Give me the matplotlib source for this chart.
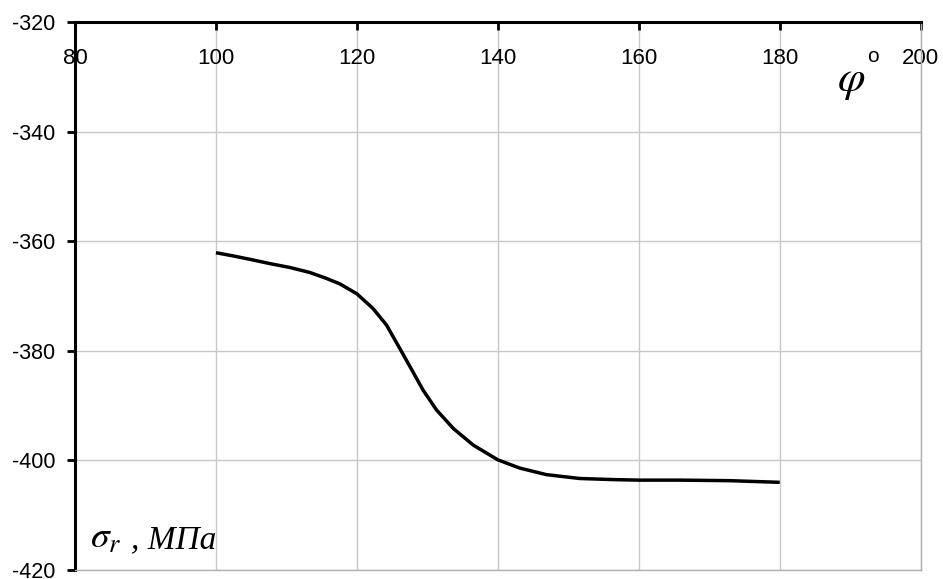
import matplotlib
matplotlib.use("Agg")
import matplotlib.pyplot as plt

# Data
phi = [100, 102.5, 104.8, 107.7, 110.5, 113.3, 115.7, 117.6, 120, 122.3, 124.2,
       126.1, 127.8, 129.4, 131.3, 133.7, 136.5, 140, 143.1, 146.9, 151.6, 156.3,
       160, 165.8, 172.9, 180]
sigma = [-362.1, -362.7, -363.3, -364.1, -364.8, -365.7, -366.8, -367.8, -369.6,
         -372.3, -375.3, -379.6, -383.5, -387.2, -390.8, -394.2, -397.2, -399.9,
         -401.4, -402.6, -403.3, -403.5, -403.6, -403.6, -403.7, -404.0]
xticks = [80, 100, 120, 140, 160, 180, 200]
yticks = [-420, -400, -380, -360, -340, -320]

plt.rcParams['font.family'] = ['Liberation Sans', 'DejaVu Sans']
plt.rcParams['mathtext.fontset'] = 'stix'
plt.rcParams['axes.unicode_minus'] = False

fig = plt.figure(figsize=(9.43, 5.79), dpi=100)
ax = fig.add_axes([75/943, 1-570/579, (920.7-75)/943, (570-22)/579])

ax.plot(phi, sigma, color='black', lw=2.5, solid_capstyle='butt',
        solid_joinstyle='round', zorder=3)

ax.set_xlim(80, 200)
ax.set_ylim(-420, -320)
ax.set_xticks(xticks)
ax.set_yticks(yticks)
ax.grid(True, color='#c8c8c8', lw=1)
ax.set_axisbelow(True)

for s in ['left', 'top']:
    ax.spines[s].set_color('black')
    ax.spines[s].set_linewidth(2.2)
for s in ['right', 'bottom']:
    ax.spines[s].set_color('#b0b0b0')
    ax.spines[s].set_linewidth(1)

ax.xaxis.tick_top()
ax.tick_params(axis='x', which='both', top=True, bottom=False, labeltop=True,
               labelbottom=False, direction='in', length=6, width=2,
               pad=-34, labelsize=16)
ax.tick_params(axis='y', direction='out', length=6, width=2, pad=8, labelsize=15.5)

ax.text(82.1, -416, r'$\sigma_r$', fontsize=27, ha='left', va='baseline')
ax.text(88.0, -416, ', МПа', fontsize=24, style='italic',
        family=['Liberation Serif', 'DejaVu Serif'], ha='left', va='baseline')
ax.text(190.1, -330.8, r'$\varphi$', fontsize=32, ha='center', va='center')
ax.text(193.2, -326.3, 'o', fontsize=15, ha='center', va='center')

fig.savefig('out.png', dpi=100)
